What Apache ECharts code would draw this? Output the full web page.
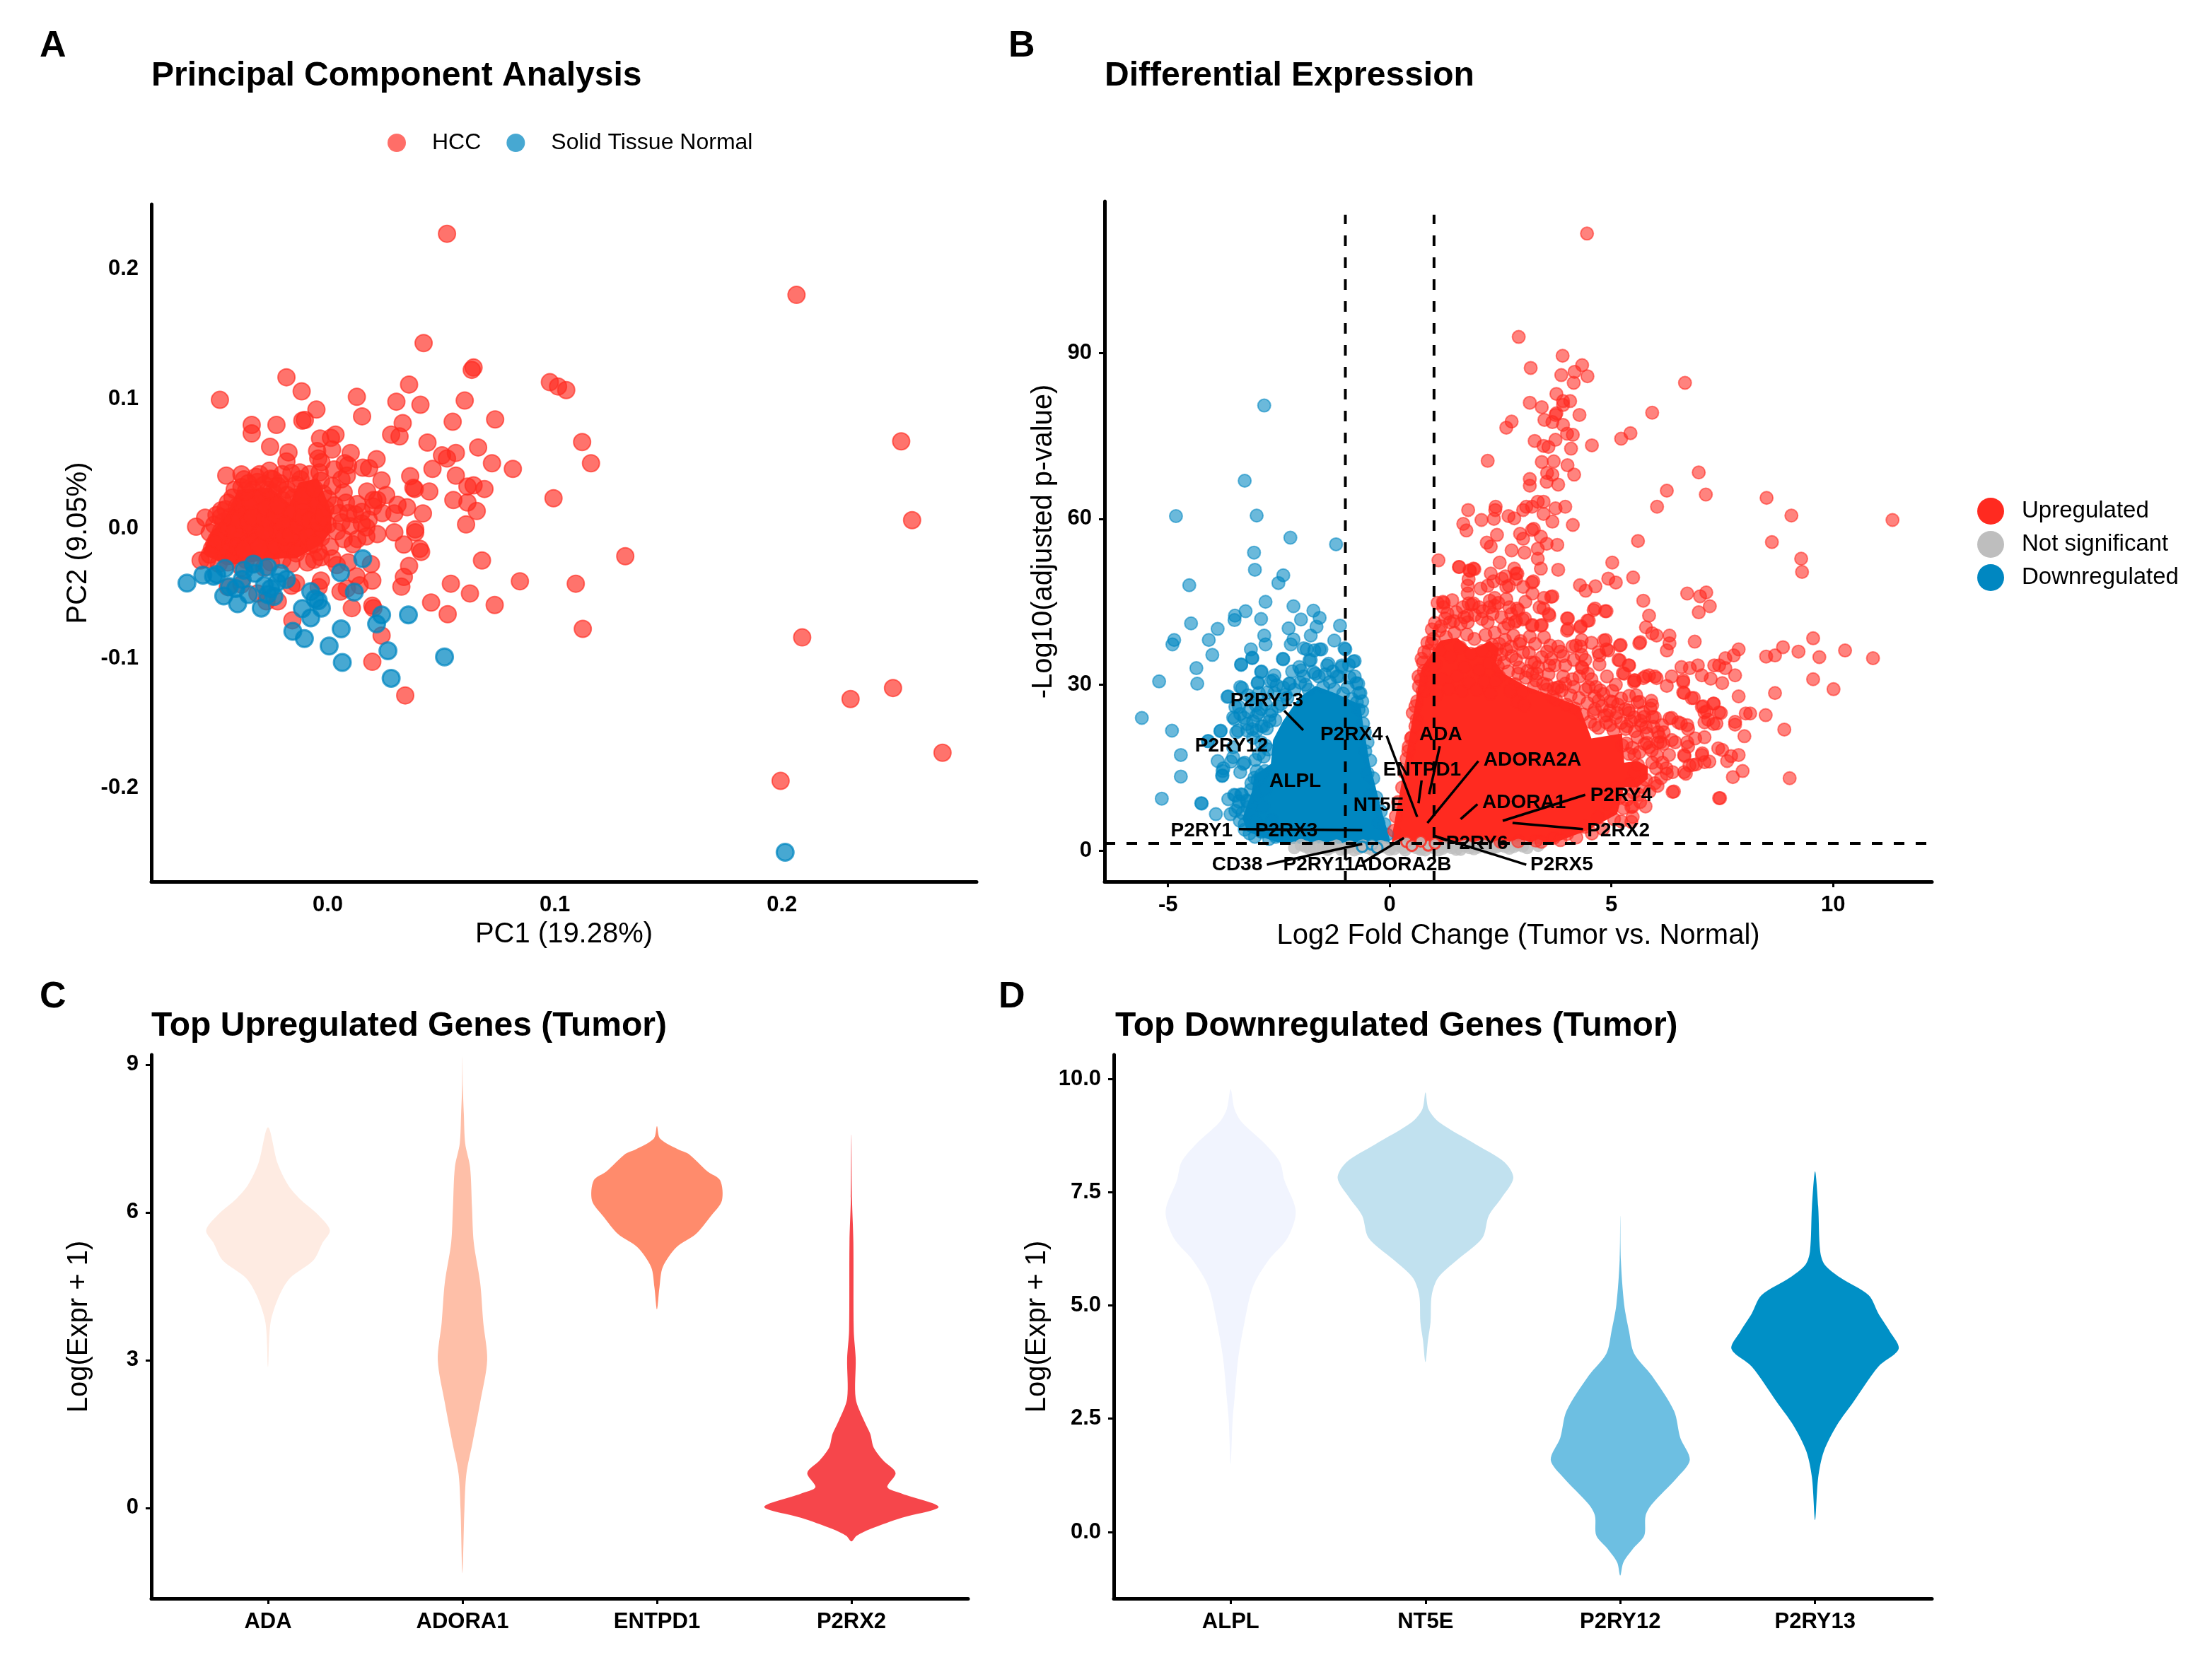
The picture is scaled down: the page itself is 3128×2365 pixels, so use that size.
<!DOCTYPE html>
<html><head><meta charset="utf-8">
<style>html,body{margin:0;padding:0;background:#fff}#c{width:3128px;height:2365px}</style>
<script src="https://cdn.jsdelivr.net/npm/echarts@6/dist/echarts.min.js"></script>
</head><body><div id="c"></div>
<script>
const pcaHCC=[[.0525,.2273],[.2064,.1802],[.0422,.1431],[.0642,.1242],[.0634,.1224],[-.0182,.1167],[-.0115,.1059],[.0358,.1111],[.0128,.1016],[.0302,.0979],[.0408,.0955],[.0603,.0988],[-.0475,.0993],[-.005,.0918],[.0978,.1129],[.1014,.1096],[.105,.1068],[.0151,.0866],[-.0112,.0833],[-.0101,.0838],[-.0335,.08],[-.0226,.08],[.033,.0814],[.055,.0824],[.0737,.0842],[-.0335,.0734],[.0279,.0725],[.0316,.0711],[.0034,.0725],[.0014,.07],[-.0034,.0695],[.0439,.0664],[.112,.0668],[.2525,.0673],[-.0254,.0631],[.0662,.0626],[-.0173,.0588],[-.0047,.0598],[.0101,.0584],[.0019,.061],[.0503,.0565],[.0525,.0541],[.0564,.0584],[.0215,.0536],[-.0182,.0518],[-.0042,.0541],[-.0028,.0513],[.0075,.0504],[.0089,.0489],[.0723,.0504],[.1159,.0504],[.0815,.0461],[.0461,.0461],[.0154,.047],[.0182,.0466],[-.0447,.0409],[-.038,.0419],[-.0369,.0381],[-.0316,.04],[-.0257,.0447],[-.0251,.0386],[-.0123,.0433],[-.0036,.0433],[.0028,.0456],[.0084,.0409],[.0564,.0409],[.0363,.0405],[.0237,.0372],[.0615,.0325],[.0642,.0334],[.069,.0306],[.0377,.0315],[.0383,.0306],[.0447,.0287],[.0173,.0287],[.0257,.0259],[.0201,.0221],[.0218,.0221],[.0994,.0235],[.0553,.0221],[.0615,.0202],[.0656,.0136],[.0419,.0118],[.0307,.0184],[.0349,.0165],[.0293,.0118],[.2573,.0066],[.0609,.0033],[.0385,-.0005],[.0385,-.0028],[.0218,-.0042],[.0293,-.0028],[.0405,-.0155],[.0411,-.0179],[.0335,-.0122],[.131,-.0212],[.0679,-.0245],[.0358,-.0287],[.0335,-.0372],[.0324,-.0447],[.0846,-.0405],[.1092,-.0424],[.0542,-.0424],[.0626,-.0499],[.019,-.0273],[.0196,-.04],[.0126,-.0367],[.014,-.0437],[.0056,-.0485],[.0084,-.0461],[.0455,-.0569],[.0735,-.0588],[.0196,-.0593],[.0201,-.0612],[.0106,-.0612],[.0528,-.0659],[.1123,-.0772],[.0237,-.0824],[.2089,-.0838],[-.0156,-.0706],[.0196,-.1026],[.2489,-.1228],[.2302,-.1313],[.0341,-.1285],[.2707,-.1727],[.1994,-.1944],
[-.058,.0015],[-.054,.0085],[-.049,.0105],[-.046,.0055],[-.056,-.0245],[-.053,-.0235],[-.051,-.0155],[-.049,-.0085],[-.047,-.002],[-.045,.015],[-.042,.024],[-.04,.017],[-.043,-.012],[-.046,-.018],[-.044,-.026],[-.041,-.02],[-.039,-.009],[-.037,.002],[-.036,.011],[-.034,.02],[-.033,.03],[-.038,.032],[-.031,.036],[-.029,.025],[-.03,.012],[-.032,-.001],[-.034,-.012],[-.036,-.024],[-.033,-.027],[-.029,-.018],[-.027,-.006],[-.026,.005],[-.025,.017],[-.024,.028],[-.021,.035],[-.02,.022],[-.021,.009],[-.022,-.003],[-.023,-.014],[-.025,-.026],[-.02,-.024],[-.018,-.012],[-.017,.001],[-.016,.012],[-.015,.024],[-.014,.034],[-.01,.029],[-.011,.017],[-.012,.005],[-.013,-.007],[-.014,-.019],[-.009,-.026],[-.008,-.013],[-.007,-.002],[-.006,.01],[-.005,.021],[-.003,.037],[-.002,.027],[-.001,.015],[0,.003],[-.003,-.007],[-.004,-.018],[.002,.033],[.006,.038],[.007,.028],[.008,.02],[.006,.005],[.01,.002],[.012,.011],[.015,.004],[.017,.001],[.02,.017],[.013,-.008],[.011,-.012],[.017,-.006],[.002,-.023],[.004,-.028],[.009,-.026],[-.052,-.003],[-.05,.003],[-.048,-.006],[-.047,.009],[-.044,.001],[-.043,.009],[-.041,-.002],[-.039,.007],[-.04,-.014],[-.037,-.016],[-.035,.005],[-.033,.009],[-.031,-.009],[-.03,-.014],[-.028,-.002],[-.028,.008],[-.027,.016],[-.026,.03],[-.023,.011],[-.022,.018],[-.019,.003],[-.019,-.006],[-.016,-.005],[-.013,.002],[-.011,.009],[-.009,-.006],[-.008,.006],[-.006,-.012],[-.004,.005],[-.002,.009],[-.018,.03],[-.012,.038],[-.008,.042],[-.02,.042],[-.016,.043],[-.024,.038],[-.036,.029],[-.03,.042],[-.044,-.045],[-.038,-.043],[-.031,-.05],[-.027,-.056],[-.022,-.056],[-.014,-.042],[-.016,-.044],[-.004,-.045],[-.003,-.04],
[-.05,-.012],[-.047,.014],[-.044,.02],[-.041,.03],[-.035,.035],[-.028,.034],[-.022,.033],[-.018,.026],[-.011,.025],[-.006,.031],[0,.023],[.003,.018],[.005,.012],[.004,-.002],[.007,-.008],[.001,-.014],[-.003,-.022],[-.006,-.024],[-.016,-.027],[-.028,-.03],[-.038,-.03],[-.048,-.027],[-.052,-.02],[.013,.019],[.015,.013],[.018,.007],[.024,.012],[.009,.012]];
const pcaNormal=[[-.062,-.0419],[-.055,-.0358],[-.0503,-.0367],[-.0489,-.0353],[-.0453,-.0306],[-.0458,-.0518],[-.0397,-.0579],[-.0433,-.0447],[-.0405,-.0461],[-.0377,-.0391],[-.0369,-.032],[-.0349,-.0508],[-.0327,-.0273],[-.0293,-.0612],[-.0321,-.0344],[-.0265,-.0296],[-.0265,-.0508],[-.0251,-.0461],[-.0223,-.0414],[-.0209,-.0344],[-.0182,-.0391],[-.0279,-.0438],[-.0237,-.0522],[-.0075,-.0485],[-.0112,-.0616],[-.0056,-.0541],[-.0028,-.0612],[-.0075,-.0687],[-.0042,-.0555],[-.0154,-.0791],[-.0103,-.0847],[.0006,-.0904],[.0059,-.0772],[.0064,-.1031],[.0154,-.0231],[.0056,-.0339],[.0117,-.0489],[.0237,-.0664],[.0215,-.0734],[.0355,-.0664],[.0265,-.0941],[.0279,-.1153],[.0514,-.0988],[.2014,-.2494]];
const pcaCore=[[-.0551,-.0191],[-.0511,-.0027],[-.0449,.0098],[-.0396,.03],[-.0252,.0316],[-.0168,.0191],[-.0128,.0354],[-.0044,.0387],[.0012,.0153],[.0019,-.0011],[-.0028,-.012],[-.0137,-.0229],[-.0199,-.0229],[-.0449,-.0283]];

const volcUp=[[4.45,111.6],[2.91,92.9],[3.9,89.5],[4.34,87.8],[3.18,87.3],[4.17,86.6],[4.46,85.8],[3.87,86],[4.15,84.6],[6.66,84.6],[3.76,82.6],[3.91,81.3],[4.07,81.3],[3.91,80.6],[3.16,81],[3.43,80.2],[5.92,79.2],[4.28,78.8],[3.76,79.1],[3.74,78.8],[3.67,77.5],[3.49,77.9],[2.75,77.6],[2.63,76.5],[3.91,77],[4,75.4],[4.13,75.2],[5.43,75.5],[5.22,74.5],[3.27,74.1],[3.47,73.2],[3.74,74.3],[3.58,73],[4.09,72.7],[4.56,73.3],[2.21,70.5],[3.43,70.3],[3.7,70.4],[4.01,69.7],[4.16,68],[3.55,68.3],[3.67,68],[3.54,66.7],[3.8,66.2],[3.16,67.2],[3.16,66],[6.97,68.4],[7.13,64.4],[6.25,65.1],[6.03,62.2],[8.5,63.8],[9.06,60.6],[11.34,59.8],[8.62,55.8],[9.28,52.8],[9.3,50.4],[5.6,56],[5.02,52.1],[4.13,58.9],[3.21,62.2],[3.34,63.1],[3.47,63.1],[3.08,62.2],[3.01,61.6],[3.47,60.9],[3.74,61.9],[3.96,62.2],[3.67,59.5],[3.25,58.2],[2.39,62.2],[2.38,61.6],[1.77,61.6],[2.81,60.1],[2.68,60.5],[2.07,59.8],[2.35,60],[1.66,59.1],[1.73,57.9],[2.94,57.3],[3.01,56.4],[3.21,58],[3.41,56.8],[3.54,55.5],[3.78,55.3],[2.42,57.1],[2.19,55.7],[2.28,55],[2.75,54.3],[3.04,53.9],[3.34,54.6],[3.34,52.8],[2.48,52.1],[3.41,51],[3.8,50.8],[1.1,52.5],[1.56,51.3],[1.8,50.7],[1.89,51],[2.28,50.1],[2.61,49.6],[2.88,50.1],[3.21,48.5],[2.81,51],[4.29,48],[4.42,47],[4.64,47.8],[4.93,49.2],[5.1,48.5],[5.49,49.4],[6.71,46.5],[7,46],[7.14,46.7],[6.97,43.1],[7.22,44.2],[5.72,45.2],[5.85,42.5],[5.78,40.4],[5.92,39.3],[6.02,38.9],[6.31,38.9],[6.31,37.5],[6.25,36.2],[5.65,37.7],[5.63,37.5],[6.88,37.8],[9.55,38.4],[8.87,36.8],[9.22,36],[10.27,36.2],[9.69,35],[10.9,34.8],[8.49,35.1],[8.69,35.3],[7.87,36.4],[7.76,35.3],[7.57,34.8],[7.43,33.5],[7.32,33.5],[7.57,33],[9.55,31],[10.01,29.2],[8.69,28.5],[7.87,27.9],[8.9,21.9],[9.02,13.1],[8.48,24.5],[8.13,24.8],[8.03,24.8],[7.79,23.3],[7.79,22.8],[8,20.7],[7.96,14.4],[7.74,13.3],[7.87,17.3],[7.7,17.1],[7.5,18.2],[7.41,18.5],[7.61,16.2],[7.43,9.5],[6.38,10.6],[7.24,31.1],[6.58,33.2],[6.77,33],[6.95,33.5],[7.04,31.7],[7.5,30.3],[7.79,31.7],[6.62,30.5],[6.64,28.5],[6.81,27.6],[7.04,26],[7.3,26.6],[7.1,25],[7.43,25],[7.3,22.9],[7.1,23.2],[6.71,22.7],[6.51,23.2],[6.31,23.9],[6.18,21.4],[6.44,19.6],[6.11,19.6],[6.64,17.3],[7.04,17.3],[6.84,15.5],[7.1,16],[6.64,14.2],[6.38,14.2],[6.71,19.6],[5.85,31.7],[5.52,30.8],[6.02,31.2],[5.72,31.2],[5.26,32.1],[5.19,34.4],[5.39,33.5],[4.73,35.3],[4.2,37.1],[4,39.8],[4,42],[4.46,41.6],[4.3,40.4],[4.86,43.3],[4.6,43.5],[4.83,38],[4.93,36.2],[5.19,37.1],[3.6,42.5],[3.64,45.9],[3.47,43.8],[3.41,40.7],[3.21,40.7],[5.59,26.8],[5.39,25.4],[5.72,25],[5.92,26.3],[5.52,24.1],[5.98,24.1],[5.78,22.3],[6.05,21.4],[5.59,20.5],[5.85,18.7],[5.52,17.3],[5.92,15.9],[5.52,14.2],[5.78,12.8],[5.65,8.8],[5.45,7.9],[5.45,5.2],
[1.2,45],[1.21,44],[1.41,45.3],[1.65,44],[1.78,44.7],[1.89,44.7],[2.02,44],[1.76,46.5],[1.76,47.9],[1.78,49.1],[1.81,50.6],[1.91,50.9],[1.57,51.3],[2.05,47.4],[2.21,47.9],[2.34,48.7],[2.53,49.2],[2.63,47.7],[2.85,50.1],[2.85,49.1],[3.01,47.7],[3.24,48.7],[3.22,46.5],[3.06,45],[2.69,47.9],[2.37,45.7],[2.37,44.3],[2.26,45.2],[2.63,45.5],[3.48,45.7],[3.67,46],[3.38,44],[3.59,42.8],[2.87,43.8],[2.74,42.8],[2.82,41.3],[3,41.8],[3.22,40.8],[3.43,40.8],[2.1,43.3],[2.21,41.3],[2.58,40.3],[2.79,38.9],[2.93,37.4],[3.01,35.9],[2.63,36.4],[2.39,34.5],[2.85,34.5],[3.27,34],[3.43,35],[3.64,34.7],[3.72,33.5],[3.91,35.2],[3.96,33.5],[3.8,36.9],[3.32,32],[3.3,30.8],[3.11,32.5],[3.91,31.5],[3.83,29.6],[3.54,29.1],[3.7,29.3],[4.12,36.9],[4.33,38.1],[4.55,37.6],[4.71,35.9],[4.87,38.1],[4.89,36.4],[5.21,37.2],[4.02,42],[4.02,40.1],[4.31,40.6],[4.49,41.6],[4.63,43.8],[4.89,43.3],[4.31,36.9],[4.33,35.4],[4.41,34.5],[4.33,33.2],[4.73,33.7],[4.28,31.5],[4.47,32],[5.16,34.5],[5.4,33.5],[5.29,32],[5.53,30.8],[4.49,29.6],[4.65,29.6],[4.71,27.1],[5.03,26.9],[4.84,24.4],[4.6,24.9],[5.4,24.9],[5.56,28.1],[5.64,26.9],[5.9,27.1],[5.88,25.7],[5.74,24.2],[5.93,24.2],[4.63,22.7],[4.97,22.7],[5.35,22.5],[5.67,22.7],[6.14,22.7],[6.36,24],[6.57,23],[5.77,31.5],[5.98,31.5],[6.25,29.8],[6.36,31.5],[5.51,30.5],[6.62,30.8],[6.62,28.6],[6.86,27.6],[7.07,26.1],[7.31,26.6],[7.15,25.2],[7.37,23],[7.47,24.9],[7.18,23.7],[7.1,20.5],[6.73,22],[6.89,20.3],[6.73,18.8],[6.65,17.1],[7.05,17.6],[7.21,16.1],[6.91,15.6],[6.76,15.4],[6.68,13.9],[6.04,11.7],[6.41,10.7],[7.45,9.5],[5.48,6.1],[5.48,8],[5.77,8],[6.17,19.3],[6.04,19.5],[6.36,20],[6.3,17.3],[6.25,13.9],[6.01,14.9],[.48,20.3],[.43,18.8],[.61,23.7],[.74,28.8],[.72,34.7],[.85,37.6],[1.12,39.8],[.77,32.5],[.82,31.5],[1.36,41.3],[1.76,41.3],[2.37,39.4],[2.47,37.4],[2.74,36.9],[2.95,37.9],[2.42,36.4],[2.58,34],[2.9,32],[2.47,31.5],[3.22,32],
[.95,37.5],[.75,34],[.65,31.5],[.8,29],[.62,27],[.5,20.5],[.58,22.5],[.42,18],[.95,40],[1.08,44.8],[1.22,44.8],[1.25,42],[1.45,41.5],[1.6,41],[1.75,42.5],[1.85,44.5],[2.25,44],[2.45,44.8],[2.7,44],[2.9,43.5],[3.05,42],[2.85,41.5],[4.12,31],[4.35,33],[4.55,31],[4.75,29],[4.9,31.5],[5.1,30],[4.98,27],[5.22,27.5],[5.4,28],[4.15,34.5],[3.85,36],[3.6,33.5],[3.2,34],[3.78,29.5],[3.55,30],[5.1,24],[4.9,24.5],[5.32,22],[5.6,15.5],[5.7,11.5],[5.4,12],[5.5,10.5],[5.18,9.5],[5.1,11.5],[4.9,8.5],[4.7,6],[4.4,4.3],[4,3],[3.7,2.3],[3.3,1.8],[2.9,1.7],[2.5,1.6],[5.8,19.5],[5.25,19],[5.4,17.5],
[.92,30.4],[1.03,33.7],[1.12,36.2],[1.27,38.6],[1.38,35.1],[1.46,39.4],[1.59,36.8],[1.68,33.2],[1.74,39.1],[1.83,35.6],[1.91,38.3],[2.02,32.7],[2.09,36.1],[2.16,39],[2.23,33.9],[2.31,37.2],[2.38,30.6],[2.52,35.5],[2.6,38.1],[2.67,32.4],[2.75,35.2],[2.83,30.1],[2.92,33.1],[2.99,28.7],[3.07,31.3],[3.14,35.8],[3.25,29.6],[3.35,33.2],[3.46,30.2],[3.58,31.9],[3.67,27.8],[1.06,28.2],[1.19,31],[1.33,29.3],[1.51,31.6],[1.64,28.9],[1.78,30.4],[1.97,29.1],[2.13,30.6],[2.27,28.4],[2.44,33.3],[2.71,29],[2.88,26.9],[3.03,26.3],
[3.75,27.3],[3.88,29],[3.99,26.4],[4.08,28.1],[4.18,25.7],[4.27,27.6],[4.36,24.6],[4.46,26.7],[4.52,23.3],[4.63,25.6],[4.71,22.2],[4.79,26.1],[4.88,23.2],[4.96,25.3],[5.05,21.7],[5.13,24.9],[5.22,23.1],[5.31,25.6],[5.44,23.4],[5.53,21.6],[5.66,23.5],[5.8,21.2],[5.95,22.4],[6.08,20.6],
[5.34,19.4],[5.47,18.6],[5.63,17.8],[5.75,19.3],[5.91,18.1],[6.03,17.2],[6.15,15.9],[6.24,14.9],[6.12,13.1],[5.98,12.2],[5.86,10.7],[5.62,10.1],[5.35,9.2],[5.27,7.7],[5.06,5.7],[5.22,5.3],[4.81,3.9],[4.56,3.1],[4.21,2.4],[3.85,1.9],[3.42,1.6],
[.1,3.6],[.14,6.2],[.19,8.8],[.28,11.4],[.33,14.2],[.38,16.6],[.52,24.9],[.58,26.1],[.66,29.7],[.7,30.9],[.78,35.9],[.88,36.1],[.98,38.3],[1.02,41.2],[1.16,40.6],[1.3,42.9],[1.5,43.1],[1.68,42.2],[1.92,42.6],[2.08,41.9],[2.32,42.8],[2.52,42.2],[2.68,41],[3.16,38.7],[3.28,37.4],[3.48,38.6],[3.62,37.1],[3.55,36],[3.96,30.2],[4.15,29.6],[4.42,29.1],[4.62,27.9],[4.82,28.3],[5.02,28.9],[5.15,26.4]];
const volcDown=[[-2.83,80.5],[-3.27,66.9],[-4.82,60.5],[-3,60.6],[-2.24,56.6],[-1.21,55.4],[-3.06,53.9],[-3.04,50.8],[-2.4,49.8],[-2.51,48.4],[-4.52,48],[-2.8,45],[-2.17,44.2],[-3.25,43.3],[-1.72,43.4],[-3.49,42.5],[-3.5,41.7],[-2.9,41.9],[-1.58,42.1],[-2,41.8],[-4.48,41.1],[-1.12,40.7],[-3.88,40.1],[-1.65,40.5],[-2.28,40.2],[-1.78,38.9],[-2.83,38.9],[-4.86,38.1],[-4.9,37.3],[-4.08,38.1],[-2.17,38.2],[-1.25,38],[-2.23,37.3],[-2.8,37.3],[-3.13,36.4],[-1.87,36.4],[-1.58,36.4],[-1.02,36.6],[-4,35.4],[-3.1,34.8],[-2.4,34.6],[-1.81,34.4],[-.82,34.2],[-3.35,33.7],[-4.36,33],[-1.41,33.5],[-1.08,33.5],[-2,32.6],[-2.9,32.3],[-5.2,30.6],[-4.34,30.2],[-2.6,31.7],[-2.63,30.8],[-2.98,30.3],[-3.33,29.4],[-2.27,30.2],[-.75,30.3],[-.69,28.5],[-3.66,27.8],[-3.64,27.9],[-5.59,24],[-4.91,21.7],[-3.82,21.6],[-4.09,19.8],[-4.71,17.3],[-3.88,16.2],[-3.75,14.9],[-3.78,13.5],[-4.71,13.4],[-3.3,15.7],[-3.53,16.9],[-3.46,21.4],[-3.53,24.1],[-5.14,9.4],[-4.24,8.5],[-4.25,8.6],[-3.92,6.6],[-3.64,9.3],[-3.51,10.1],[-3.59,6.6],[-3.33,10.1],[-3.2,7.9],[-3.13,5.7],[-3.27,3.8],[-2.57,3],
[-3.35,33.6],[-3.1,34.9],[-2.89,32.4],[-2.97,30.4],[-3.37,29.6],[-2.68,30.6],[-2.25,30.2],[-2.2,32.4],[-2.04,33.2],[-1.78,34.5],[-1.94,36.6],[-1.7,36.2],[-1.54,36.4],[-2.41,34.7],[-1.38,33.8],[-1.08,33.2],[-.92,33.6],[-.79,34.3],[-1,36.4],[-.79,31.5],[-.71,30.2],[-.66,28.5],[-1.19,31.5],[-1.46,31.9],[-1.72,32.3],[-1.94,31.5],[-3.48,26],[-3.5,23.8],[-3.37,24.7],[-3.19,25.1],[-3.08,23.4],[-2.89,22.5],[-2.71,23.4],[-3.42,21.7],[-3.21,21.7],[-3,21.7],[-3.81,21.7],[-4.1,19.8],[-3.58,16.1],[-3.77,14.4],[-3.77,13.6],[-3.37,14.2],[-3.27,15.9],[-3.03,16.4],[-3.53,18.7],[-2.84,17],[-3,14.4],[-2.81,14.4],[-3.05,13.2],[-3.48,10],[-3.35,10.2],[-3.13,11],[-3.42,7.8],[-3.21,8.9],[-3.32,6.8],[-3.27,4.8],[-3.05,8],[-2.89,3.4],[-2.57,2.5],
[-3.4,26],[-3.1,27.5],[-2.95,28.5],[-3.1,22],[-3,24.5],[-2.8,26.5],[-2.6,28.5],[-2.4,29.5],[-1.9,30],[-1.6,31.5],[-1.35,30.5],[-1.15,31.5],[-.95,29.5],[-.62,27],[-.7,25.5],[-.6,23],[-2.95,17.5],[-2.95,10.5],[-2.85,8],[-2.85,3.5],[-2.65,5.5],[-.45,10],[-.5,14],[-.55,18],[-.4,9],[-.25,5],[-2.8,19],[-2.85,22.5],[-2.7,24.5],[-2.45,26.5],
[-2.35,28.2],[-2.15,29.1],[-2.52,26.1],[-2.31,27.6],[-2.66,25.2],[-2.77,22.1],[-2.58,23.6],[-2.9,19.6],[-2.74,18.3],[-2.96,24.9],[-3.08,20.4],[-3.22,22.9],[-3.02,26.3],[-3.2,28.1],[-3.28,24],[-2.9,25.6],[-2.76,28.6],[-2.55,29.9],[-1.83,29.1],[-1.5,29.6],[-1.25,29.2],[-1.05,28.4],[-.85,27.4],[-.74,26.8],[-1.68,32],[-1.28,32.4],[-2.02,30.4],[-.9,31.3],[-.62,25.2],[-.56,21.4],[-.5,19.6],[-.44,16.3],[-.37,13.1],[-.3,9.6],[-.2,7.1],[-.12,4.8],[-.06,2.9],[-2.98,12.8],[-3.12,12.2],[-3.22,9.1],[-3.12,6.6],[-3.02,5.3],[-3.16,3.1],[-3.04,2.5],[-2.72,2.1],[-2.9,13.7],[-2.8,11.2],[-3.4,8.9],[-3.38,5.4],[-3.48,7.2]];
const volcNS=[[-2.15,.5],[-2,1],[-1.8,.3],[-1.6,.8],[-1.4,.2],[-1.2,.9],[-1,.4],[-.8,.1],[-.6,.9],[-.4,.2],[-.2,.8],[0,.2],[.2,.9],[.35,.1],[.5,.8],[.7,.2],[.9,.7],[1.1,.1],[1.3,.8],[1.5,.2],[1.7,.8],[1.9,.3],[2.1,.9],[2.3,.3],[2.5,.9],[2.7,.4],[2.9,1],[3.1,.5],[3.35,.9],[-1.9,.7],[-1.7,.5],[-1.5,.5],[-1.3,.6],[-1.1,.2],[-.9,.7],[-.7,.4],[-.5,.5],[-.3,.4],[-.1,.6],[.1,.3],[.3,.5],[.6,.5],[.8,.1],[1,.5],[1.2,.4],[1.4,.5],[1.6,.2],[1.8,.5],[2,.6],[2.2,.5],[2.4,.6],[2.6,.7],[2.8,.7],[3,.8]];
const volcRingsUp=[[.38,1.6],[.5,.9],[.87,.95],[1.02,1.3],[.7,1.7]];
const volcRingsDown=[[-.62,.7],[-.4,1.1],[-.28,.5]];
const upCore=[[.05,1.2],[.05,2.6],[.24,11],[.45,20.8],[.61,28.1],[.72,33],[1.14,38],[1.52,38.5],[1.83,36.5],[2.05,37],[2.26,38],[2.47,36.5],[2.4,34],[2.58,32],[3.11,29.6],[3.64,28.1],[4.28,26.1],[4.55,20.3],[5.24,21.2],[5.29,15.9],[5.6,16.2],[5.82,15.2],[5.82,13],[5.6,11.5],[5.29,11.5],[5.13,6.6],[4.44,3.6],[3.64,1.2]];
const downCore=[[0,1.2],[0,2.1],[-.18,7.2],[-.45,15.7],[-.61,23.4],[-.66,26.4],[-1.24,28.5],[-1.67,29.8],[-2.04,27.7],[-2.41,23.4],[-2.63,20],[-2.68,15.7],[-3.05,13.6],[-3.11,10.6],[-3.32,5.9],[-3.21,3.4],[-2.57,1.6],[-2.2,1.2]];
const geneLabels=[['P2RY13',-2.77,27.1],['P2RX4',-.86,20.9],['ADA',1.15,20.9],['P2RY12',-3.57,18.9],['ENTPD1',.73,14.6],['ADORA2A',3.22,16.3],['ALPL',-2.13,12.5],['NT5E',-.25,8.2],['P2RY4',5.22,9.96],['ADORA1',3.03,8.7],['P2RY1',-4.24,3.57],['P2RX3',-2.33,3.57],['P2RX2',5.16,3.57],['P2RY6',1.97,1.3],['CD38',-3.44,-2.55],['P2RY11',-1.59,-2.55],['ADORA2B',.29,-2.55],['P2RX5',3.88,-2.55]];
const geneLeaders=[[[-2.38,25.3],[-1.95,21.8]],[[-.07,20.8],[.62,6.1]],[[1.13,18.9],[.89,10.2]],[[.72,12.7],[.65,8.55]],[[2,16.2],[.85,5]],[[1.98,8.4],[1.6,5.7]],[[4.41,10.1],[2.55,5.4]],[[4.36,3.9],[2.77,5]],[[-3.4,3.9],[-.62,3.7]],[[.99,2.7],[1.29,1.85]],[[3.08,-2.54],[1,2.7]],[[-2.77,-2.54],[-.62,1.2]],[[-.62,-2.2],[.32,2.28]]];

const upGenes=['ADA','ADORA1','ENTPD1','P2RX2'];
const upColors=['#FEEBE2','#FEBFA8','#FF8B6C','#F6464B'];
const upViolins=[
[[7.73,0],[7,.049],[6.55,.104],[6.28,.162],[5.98,.25],[5.64,.318],[5.38,.28],[5.03,.234],[4.67,.114],[4.31,.058],[3.76,.013],[2.86,0]],
[[9.17,0],[8.54,.002],[8,.007],[7.4,.014],[6.92,.039],[6.1,.049],[5.39,.058],[4.57,.091],[3.76,.107],[3,.127],[2.14,.091],[1.33,.052],[.69,.02],[-.03,.01],[-1.33,0]],
[[7.75,0],[7.5,.016],[7.27,.114],[7.19,.162],[6.83,.26],[6.65,.325],[6.24,.334],[5.92,.276],[5.56,.2],[5.29,.1],[4.89,.03],[4.48,.013],[4.03,0]],
[[7.59,0],[6.28,.003],[5.39,.01],[3.6,.012],[3.03,.022],[2.22,.022],[1.77,.065],[1.5,.097],[1.23,.114],[.97,.162],[.71,.227],[.42,.185],[.29,.26],[.02,.448],[-.2,.26],[-.43,.097],[-.57,.026],[-.68,0]]];
const downGenes=['ALPL','NT5E','P2RY12','P2RY13'];
const downColors=['#F1F4FE','#C1E1EF','#6DBFE2','#0090C6'];
const downViolins=[
[[9.77,0],[9.33,.02],[9.04,.058],[8.55,.18],[8.16,.253],[7.76,.276],[7.08,.334],[6.49,.292],[6,.195],[5.41,.114],[4.63,.071],[3.84,.039],[2.96,.02],[2.47,.01],[1.49,0]],
[[9.7,0],[9.33,.016],[9.04,.071],[8.55,.26],[8.16,.406],[7.81,.451],[7.37,.39],[6.98,.325],[6.49,.292],[6,.162],[5.61,.065],[5.22,.032],[4.63,.026],[4.24,.013],[3.75,0]],
[[6.98,0],[6,.003],[5.02,.02],[4.43,.045],[3.94,.071],[3.45,.162],[2.67,.276],[2.08,.308],[1.59,.357],[1.2,.292],[.61,.162],[.36,.13],[-.08,.123],[-.37,.065],[-.67,.016],[-.96,0]],
[[7.96,0],[7.18,.016],[6.2,.026],[5.9,.049],[5.61,.13],[5.22,.276],[4.82,.325],[4.43,.383],[4.04,.429],[3.65,.325],[2.86,.195],[2.37,.114],[1.78,.045],[1.2,.016],[.26,0]]];
const ticksA=[[0,.1,.2],[-.2,-.1,0,.1,.2]];
const ticksB=[[-5,0,5,10],[0,30,60,90]];
const ticksC=[0,3,6,9];
const ticksD=[0,2.5,5,7.5,10];

const FONT='Liberation Sans';
const UP='#FF2A20',DOWN='#0087C1',NS='#BEBEBE';
const boldTick={fontFamily:FONT,fontWeight:'bold',fontSize:31,color:'#000'};
const lineA={show:true,onZero:false,lineStyle:{color:'#000',width:5}};
function axis(gi,min,max,ticks,name,gap,showTick,fmt){
  return {type:'value',gridIndex:gi,min,max,splitLine:{show:false},axisLine:lineA,
    axisTick:{show:showTick,length:8,lineStyle:{color:'#000',width:3},customValues:ticks},
    axisLabel:{customValues:ticks,margin:18,formatter:fmt,...boldTick},
    name,nameLocation:'middle',nameGap:gap,nameTextStyle:{fontFamily:FONT,fontSize:40,color:'#000'}};
}
const f1=v=>v.toFixed(1), f0=v=>String(v);
function polySeries(name,gi,pts,color){
  return {type:'custom',name,xAxisIndex:gi,yAxisIndex:gi,coordinateSystem:'cartesian2d',data:[[pts[0][0],pts[0][1]]],silent:true,z:2,
    renderItem:(p,api)=>({type:'polygon',shape:{points:pts.map(q=>api.coord(q))},style:{fill:color}})};
}
function violinSeries(gi,viol,colors,genes){
  return {type:'custom',name:'violin'+gi,xAxisIndex:gi,yAxisIndex:gi,data:genes.map((g,i)=>[i+1,viol[i][0][0]]),silent:true,
    renderItem:(p,api)=>{const c=api.value(0),v=viol[p.dataIndex];
      const r=v.map(a=>api.coord([c+a[1],a[0]])),l=v.slice(1,-1).reverse().map(a=>api.coord([c-a[1],a[0]]));
      return {type:'polygon',shape:{points:r.concat(l),smooth:.3},style:{fill:colors[p.dataIndex]}};}};
}
function lineSeries(name,pts,dashed,w){
  return {type:'line',name,xAxisIndex:1,yAxisIndex:1,data:pts,symbol:'none',silent:true,z:8,animation:false,
    lineStyle:{color:'#000',width:w,type:dashed?[15,16]:'solid'}};
}
const sc=(name,gi,data,color,size,op,z,bw)=>({type:'scatter',name,xAxisIndex:gi,yAxisIndex:gi,data,symbolSize:size,z,silent:true,
    itemStyle:{color,opacity:op,borderColor:color,borderWidth:bw}});
const T=(text,left,top,size)=>({text,left,top,padding:0,textStyle:{fontFamily:FONT,fontWeight:'bold',fontSize:size,color:'#000'}});
const catFmt=g=>v=>g[Math.round(v)-1]||'';
const option={animation:false,backgroundColor:'#fff',
 title:[T('A',56,40,52),T('B',1426,40,52),T('C',56,1385,52),T('D',1412,1385,52),
  T('Principal Component Analysis',214,84,48),T('Differential Expression',1562,84,48),
  T('Top Upregulated Genes (Tumor)',214,1428,48),T('Top Downregulated Genes (Tumor)',1577,1428,48)],
 legend:[
  {left:543,top:181,itemWidth:26,itemHeight:26,itemGap:36,icon:'circle',selectedMode:false,
   data:[{name:'HCC',itemStyle:{color:UP,opacity:.68,borderWidth:0}},{name:'Solid Tissue Normal',itemStyle:{color:DOWN,opacity:.72,borderWidth:0}}],
   textStyle:{fontFamily:FONT,fontSize:32,color:'#000',padding:[0,0,0,32]}},
  {left:2791,top:699,orient:'vertical',itemWidth:38,itemHeight:38,itemGap:9,icon:'circle',selectedMode:false,
   data:[{name:'Upregulated',itemStyle:{color:UP,opacity:1,borderWidth:0}},{name:'Not significant',itemStyle:{color:NS,opacity:1,borderWidth:0}},{name:'Downregulated',itemStyle:{color:DOWN,opacity:1,borderWidth:0}}],
   textStyle:{fontFamily:FONT,fontSize:33,color:'#000',padding:[0,0,0,20]}}],
 grid:[
  {left:214,top:289,width:1167,height:958},
  {left:1562,top:285,width:1170,height:962},
  {left:214,top:1492,width:1155,height:769},
  {left:1575,top:1492,width:1157,height:769}],
 xAxis:[
  axis(0,-.0777,.2857,ticksA[0],'PC1 (19.28%)',55,false,f1),
  axis(1,-6.43,12.23,ticksB[0],'Log2 Fold Change (Tumor vs. Normal)',57,true,f0),
  axis(2,.4,4.6,[1,2,3,4],'',40,true,catFmt(upGenes)),
  axis(3,.4,4.6,[1,2,3,4],'',40,true,catFmt(downGenes))],
 yAxis:[
  axis(0,-.272,.25,ticksA[1],'PC2 (9.05%)',83,false,f1),
  axis(1,-5.6,117.4,ticksB[1],'-Log10(adjusted p-value)',66,true,f0),
  axis(2,-1.84,9.2,ticksC,'Log(Expr + 1)',82,true,f0),
  axis(3,-1.467,10.53,ticksD,'Log(Expr + 1)',88,true,f1)],
 series:[
  polySeries('pcaCore',0,pcaCore,UP),
  sc('HCC',0,pcaHCC,UP,24,.66,3,2),
  sc('Solid Tissue Normal',0,pcaNormal,DOWN,24,.72,4,3),
  sc('Not significant',1,volcNS,NS,18,.8,2,0),
  polySeries('downCore',1,downCore,DOWN),
  polySeries('upCore',1,upCore,UP),
  sc('Downregulated',1,volcDown,DOWN,18,.58,3,2),
  sc('Upregulated',1,volcUp,UP,18,.58,3,2),
  {type:'scatter',name:'ringsUp',xAxisIndex:1,yAxisIndex:1,data:volcRingsUp,symbolSize:15,z:4,silent:true,itemStyle:{color:NS,opacity:.85,borderColor:UP,borderWidth:3}},
  {type:'scatter',name:'ringsDown',xAxisIndex:1,yAxisIndex:1,data:volcRingsDown,symbolSize:15,z:4,silent:true,itemStyle:{color:NS,opacity:.85,borderColor:DOWN,borderWidth:3}},
  lineSeries('v1',[[-1,-5.6],[-1,115]],true,4),
  lineSeries('v2',[[1,-5.6],[1,115]],true,4),
  lineSeries('h1',[[-6.43,1.3],[12.23,1.3]],true,4),
  ...geneLeaders.map((g,i)=>lineSeries('lead'+i,g,false,3.5)),
  {type:'scatter',name:'genes',xAxisIndex:1,yAxisIndex:1,z:9,symbolSize:1,silent:true,itemStyle:{opacity:1,color:'rgba(0,0,0,0)'},
   data:geneLabels.map(g=>({name:g[0],value:[g[1],g[2]]})),
   label:{show:true,position:'inside',formatter:'{b}',opacity:1,fontFamily:FONT,fontWeight:'bold',fontSize:28,color:'#000'}},
  violinSeries(2,upViolins,upColors,upGenes),
  violinSeries(3,downViolins,downColors,downGenes)
 ]};
const chart=echarts.init(document.getElementById('c'),null,{renderer:'canvas',width:3128,height:2365});
chart.setOption(option);
</script></body></html>
